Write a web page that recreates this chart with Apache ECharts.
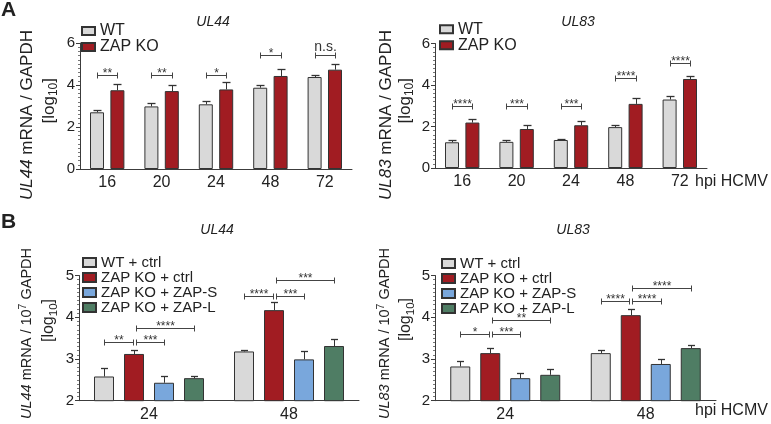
<!DOCTYPE html>
<html><head><meta charset="utf-8">
<script src="https://cdn.jsdelivr.net/npm/echarts@6/dist/echarts.min.js"></script>
<style>html,body{margin:0;padding:0;background:#fff}#c{width:771px;height:424px}</style>
</head><body><div id="c"></div>
<script>
// ---------- DATA ----------
const hpiA = ['16', '20', '24', '48', '72'];
const hpiB = ['24', '48'];
const namesA = ['WT', 'ZAP KO'];
const namesB = ['WT + ctrl', 'ZAP KO + ctrl', 'ZAP KO + ZAP-S', 'ZAP KO + ZAP-L'];
const ticksA = [0, 2, 4, 6];
const ticksB = [2, 3, 4, 5];

// Panel A, UL44 (log10 mRNA / GAPDH)
const ul44A_WT = [2.70, 2.98, 3.08, 3.87, 4.38];
const ul44A_WT_err = [0.12, 0.16, 0.16, 0.11, 0.10];
const ul44A_KO = [3.75, 3.71, 3.79, 4.43, 4.73];
const ul44A_KO_err = [0.30, 0.29, 0.37, 0.32, 0.27];
// Panel A, UL83
const ul83A_WT = [1.24, 1.26, 1.35, 1.97, 3.30];
const ul83A_WT_err = [0.11, 0.11, 0.07, 0.11, 0.15];
const ul83A_KO = [2.19, 1.88, 2.06, 3.09, 4.29];
const ul83A_KO_err = [0.18, 0.21, 0.20, 0.28, 0.14];
// Panel B, UL44 (log10 mRNA / 10^7 GAPDH)
const ul44B_WT = [2.58, 3.18];
const ul44B_WT_err = [0.20, 0.04];
const ul44B_KO = [3.12, 4.17];
const ul44B_KO_err = [0.10, 0.19];
const ul44B_S = [2.43, 2.99];
const ul44B_S_err = [0.16, 0.21];
const ul44B_L = [2.54, 3.31];
const ul44B_L_err = [0.06, 0.17];
// Panel B, UL83
const ul83B_WT = [2.82, 3.14];
const ul83B_WT_err = [0.14, 0.07];
const ul83B_KO = [3.14, 4.05];
const ul83B_KO_err = [0.13, 0.14];
const ul83B_S = [2.54, 2.88];
const ul83B_S_err = [0.12, 0.12];
const ul83B_L = [2.62, 3.26];
const ul83B_L_err = [0.14, 0.08];

// significance: [category, fromBar, toBar, bracket height, label]
const sigUL44A = [[0,0,1,4.5,'**'],[1,0,1,4.5,'**'],[2,0,1,4.5,'*'],[3,0,1,5.43,'*'],[4,0,1,5.43,'n.s.']];
const sigUL83A = [[0,0,1,2.98,'****'],[1,0,1,2.98,'***'],[2,0,1,2.98,'***'],[3,0,1,4.32,'****'],[4,0,1,5.04,'****']];
const sigUL44B = [[0,0,1,3.40,'**'],[0,1,2,3.40,'***'],[0,1,3,3.74,'****'],[1,0,1,4.52,'****'],[1,1,2,4.52,'***'],[1,1,3,4.89,'***']];
const sigUL83B = [[0,0,1,3.61,'*'],[0,1,2,3.61,'***'],[0,1,3,3.93,'**'],[1,0,1,4.39,'****'],[1,1,2,4.39,'****'],[1,1,3,4.70,'****']];

// ---------- STYLE / LAYOUT ----------
const FONT = "'Liberation Sans', Arial, sans-serif";
const colorsA = ['#d9d9d9', '#a11c22'];
const colorsB = ['#d9d9d9', '#a11c22', '#79a7dc', '#4f7d64'];
const AX = '#3c3c3c';
const TXT = '#222';

function barSeries(g, names, colors, vals, barW, gapPx) {
  return vals.map((v, k) => ({
    type: 'bar', name: names[k], xAxisIndex: g, yAxisIndex: g, data: v,
    barWidth: barW, barGap: (gapPx / barW * 100) + '%', z: 2,
    itemStyle: { color: colors[k], borderColor: '#333', borderWidth: 1 },
    emphasis: { disabled: true }, silent: true
  }));
}
function errSeries(g, vals, errs, barW, gapPx, cap) {
  const n = vals.length;
  return vals.map((v, k) => ({
    type: 'custom', xAxisIndex: g, yAxisIndex: g, z: 3, silent: true,
    data: v.map((val, i) => [i, val, errs[k][i]]),
    encode: { x: 0, y: 1 },
    renderItem: (params, api) => {
      const off = (k - (n - 1) / 2) * (barW + gapPx);
      const p0 = api.coord([api.value(0), api.value(1)]);
      const p1 = api.coord([api.value(0), api.value(1) + api.value(2)]);
      const x = Math.round(p0[0] + off) + 0.5;
      const yt = Math.round(p1[1]) + 0.5;
      return { type: 'group', children: [
        { type: 'line', shape: { x1: x, y1: p0[1], x2: x, y2: yt }, style: { stroke: '#333', lineWidth: 1 } },
        { type: 'line', shape: { x1: x - cap, y1: yt, x2: x + cap, y2: yt }, style: { stroke: '#333', lineWidth: 1.3 } }
      ]};
    }
  }));
}
function sigSeries(g, n, sig, barW, gapPx, inset) {
  return {
    type: 'custom', xAxisIndex: g, yAxisIndex: g, z: 4, silent: true,
    data: sig.map(s => [s[0], s[3], s[1], s[2]]),
    encode: { x: 0, y: 1 },
    renderItem: (params, api) => {
      const lab = sig[params.dataIndex][4];
      const step = barW + gapPx;
      const p = api.coord([api.value(0), api.value(1)]);
      let xa = p[0] + (api.value(2) - (n - 1) / 2) * step;
      let xb = p[0] + (api.value(3) - (n - 1) / 2) * step;
      if (inset) { if (api.value(2) === 1) xa += 1.5; if (api.value(3) === 1) xb -= 1.5; }
      xa = Math.round(xa) + 0.5; xb = Math.round(xb) + 0.5;
      const y = Math.round(p[1]) + 0.5;
      const ns = lab === 'n.s.';
      return { type: 'group', children: [
        { type: 'line', shape: { x1: xa, y1: y, x2: xb, y2: y }, style: { stroke: '#444', lineWidth: 1 } },
        { type: 'line', shape: { x1: xa, y1: y - 3, x2: xa, y2: y + 3 }, style: { stroke: '#444', lineWidth: 1 } },
        { type: 'line', shape: { x1: xb, y1: y - 3, x2: xb, y2: y + 3 }, style: { stroke: '#444', lineWidth: 1 } },
        { type: 'text', style: { text: lab, x: (xa + xb) / 2, y: ns ? y - 1 : y + 4,
            align: 'center', verticalAlign: 'bottom', fill: '#333',
            font: (ns ? '14px ' : '12px ') + FONT } }
      ]};
    }
  };
}
function xAx(g, cats) {
  return { gridIndex: g, type: 'category', data: cats,
    axisLine: { lineStyle: { color: AX, width: 1 } },
    axisTick: { alignWithLabel: true, length: 4, lineStyle: { color: AX } },
    axisLabel: { fontSize: 16, color: TXT, margin: 6, fontFamily: FONT } };
}
function yAx(g, ticks, minorSplit) {
  return { gridIndex: g, type: 'value', min: ticks[0], max: ticks[ticks.length - 1],
    interval: ticks[1] - ticks[0],
    axisLine: { show: true, lineStyle: { color: AX, width: 1 } },
    axisTick: { show: true, length: 4, lineStyle: { color: AX } },
    minorTick: { show: true, splitNumber: minorSplit, length: 2, lineStyle: { color: '#777' } },
    splitLine: { show: false },
    axisLabel: { fontSize: 15, color: TXT, margin: 5, fontFamily: FONT } };
}
function legendCfg(names, left, top, lh, fs, ih) {
  return { data: names, orient: 'vertical', left: left, top: top, itemGap: 0,
    itemWidth: 13, itemHeight: ih, icon: 'rect', selectedMode: false, padding: 0,
    textStyle: { fontSize: fs, color: TXT, fontFamily: FONT, lineHeight: lh, height: lh } };
}

const bwA = 14, gpA = 6.4, bwB = 20, gpB = 10;

const series = [].concat(
  barSeries(0, namesA, colorsA, [ul44A_WT, ul44A_KO], bwA, gpA),
  errSeries(0, [ul44A_WT, ul44A_KO], [ul44A_WT_err, ul44A_KO_err], bwA, gpA, 4),
  [sigSeries(0, 2, sigUL44A, bwA, gpA, false)],
  barSeries(1, namesA, colorsA, [ul83A_WT, ul83A_KO], bwA, gpA),
  errSeries(1, [ul83A_WT, ul83A_KO], [ul83A_WT_err, ul83A_KO_err], bwA, gpA, 4),
  [sigSeries(1, 2, sigUL83A, bwA, gpA, false)],
  barSeries(2, namesB, colorsB, [ul44B_WT, ul44B_KO, ul44B_S, ul44B_L], bwB, gpB),
  errSeries(2, [ul44B_WT, ul44B_KO, ul44B_S, ul44B_L], [ul44B_WT_err, ul44B_KO_err, ul44B_S_err, ul44B_L_err], bwB, gpB, 3.5),
  [sigSeries(2, 4, sigUL44B, bwB, gpB, true)],
  barSeries(3, namesB, colorsB, [ul83B_WT, ul83B_KO, ul83B_S, ul83B_L], bwB, gpB),
  errSeries(3, [ul83B_WT, ul83B_KO, ul83B_S, ul83B_L], [ul83B_WT_err, ul83B_KO_err, ul83B_S_err, ul83B_L_err], bwB, gpB, 3.5),
  [sigSeries(3, 4, sigUL83B, bwB, gpB, true)]
);

function txt(text, x, y, font, align, style) {
  return { type: 'text', x: x, y: y, silent: true,
    style: Object.assign({ text: text, font: font, fill: TXT, align: align || 'center', verticalAlign: 'middle' }, style || {}) };
}
function richY(fs, ss) {
  return {
    i: { fontStyle: 'italic', fontSize: fs, fontFamily: FONT, fill: TXT },
    n: { fontSize: fs, fontFamily: FONT, fill: TXT },
    sub: { fontSize: ss, fontFamily: FONT, fill: TXT, padding: [Math.round(fs * 0.55), 0, 0, 0] },
    sup: { fontSize: ss, fontFamily: FONT, fill: TXT, padding: [0, 0, Math.round(fs * 0.55), 0] }
  };
}
function yName(text, x, yTop, fs, ss) {
  return { type: 'text', x: x, y: yTop, rotation: Math.PI / 2, silent: true,
    style: { text: text, align: 'right', verticalAlign: 'middle', rich: richY(fs, ss), fill: TXT, font: fs + 'px ' + FONT } };
}

const option = {
  backgroundColor: '#fff',
  animation: false,
  grid: [
    { left: 80, right: 419, top: 43, bottom: 255, containLabel: false, outerBoundsMode: 'none' },
    { left: 435, right: 64, top: 43.5, bottom: 256, containLabel: false, outerBoundsMode: 'none' },
    { left: 79, right: 412, top: 275.5, bottom: 23.3, containLabel: false, outerBoundsMode: 'none' },
    { left: 435, right: 55, top: 275.5, bottom: 23.3, containLabel: false, outerBoundsMode: 'none' }
  ],
  xAxis: [xAx(0, hpiA), xAx(1, hpiA), xAx(2, hpiB), xAx(3, hpiB)],
  yAxis: [yAx(0, ticksA, 10), yAx(1, ticksA, 10), yAx(2, ticksB, 10), yAx(3, ticksB, 10)],
  legend: [
    legendCfg(namesA, 81, 23, 13.3, 16, 8),
    legendCfg(namesA, 439, 21.3, 13.3, 16, 8),
    legendCfg(namesB, 82, 255, 11.4, 15, 9),
    legendCfg(namesB, 441, 256, 11.4, 15, 9)
  ],
  graphic: [
    txt('A', 1, 10, 'bold 21px ' + FONT, 'left'),
    txt('B', 1, 222, 'bold 21px ' + FONT, 'left'),
    txt('UL44', 213, 22, 'italic 14px ' + FONT),
    txt('UL83', 578, 22, 'italic 14px ' + FONT),
    txt('UL44', 217, 230, 'italic 14px ' + FONT),
    txt('UL83', 573, 230, 'italic 14px ' + FONT),
    txt('hpi HCMV', 695, 182, '16px ' + FONT, 'left'),
    txt('hpi HCMV', 695, 411, '16px ' + FONT, 'left'),
    yName('{i|UL44}{n| mRNA / GAPDH}', 27, 30, 17, 12),
    yName('{n|[log}{sub|10}{n|]}', 49, 78, 17, 12),
    yName('{i|UL83}{n| mRNA / GAPDH}', 386, 30, 17, 12),
    yName('{n|[log}{sub|10}{n|]}', 405, 78, 17, 12),
    yName('{i|UL44}{n| mRNA / 10}{sup|7}{n| GAPDH}', 27, 248, 14.5, 10.5),
    yName('{n|[log}{sub|10}{n|]}', 49, 299, 16, 11.5),
    yName('{i|UL83}{n| mRNA / 10}{sup|7}{n| GAPDH}', 385, 248, 14.5, 10.5),
    yName('{n|[log}{sub|10}{n|]}', 406, 298, 16, 11.5)
  ],
  series: series
};

const chart = echarts.init(document.getElementById('c'), null, { renderer: 'canvas' });
chart.setOption(option);
</script>
</body></html>
